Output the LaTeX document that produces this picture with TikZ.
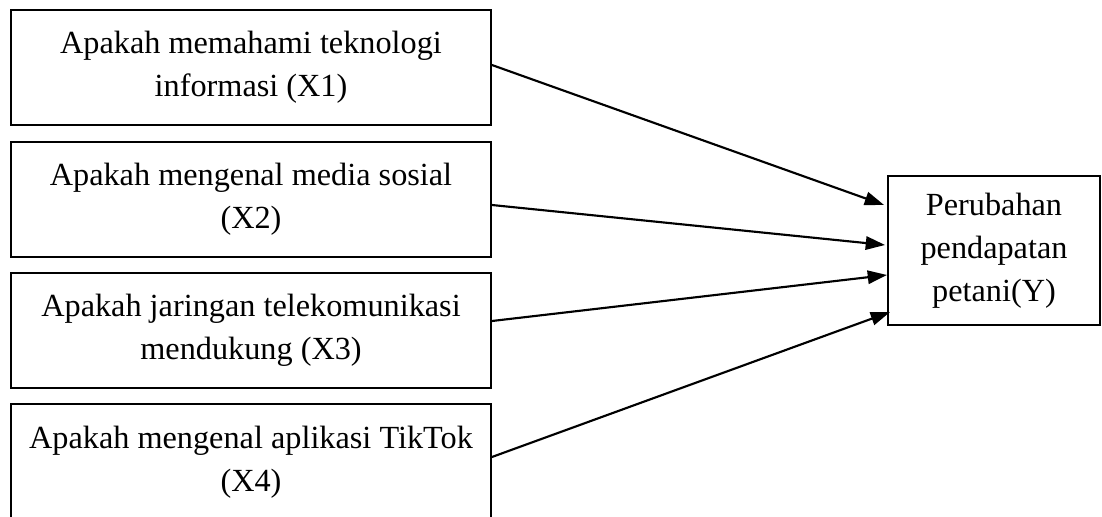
\documentclass[tikz,border=0pt]{standalone}
\usepackage{fontspec}
\setmainfont{Liberation Serif}
\usetikzlibrary{arrows.meta,calc}
\begin{document}
\begin{tikzpicture}[x=0.75pt,y=-0.75pt,
  varbox/.style={draw,line width=1.4pt,rectangle,align=center,inner sep=0pt,
    font=\fontsize{24.2pt}{32.3pt}\selectfont},
  conn/.style={line width=1.6pt,-{Triangle[length=14.5pt,width=10pt]}}]
\useasboundingbox (0,0) rectangle (1102,517);
\node[varbox,minimum width=360pt,minimum height=86.25pt] (x1) at (251,67.5) {Apakah memahami teknologi\\informasi (X1)};
\node[varbox,minimum width=360pt,minimum height=86.25pt] (x2) at (251,199.5) {Apakah mengenal media sosial\\(X2)};
\node[varbox,minimum width=360pt,minimum height=86.25pt] (x3) at (251,330.5) {Apakah jaringan telekomunikasi\\mendukung (X3)};
\node[varbox,minimum width=360pt,minimum height=87pt] (x4) at (251,462) {Apakah mengenal aplikasi TikTok\\(X4)};
\node[varbox,minimum width=159pt,minimum height=111.75pt] (y) at (994,250.5) {Perubahan\\pendapatan\\petani(Y)};
\draw[conn] ($(x1.east)+(0,-2.5)$) -- ($(y.west)+(-3,-45.5)$);
\draw[conn] ($(x2.east)+(0,5.5)$) -- ($(y.west)+(-2,-5.5)$);
\draw[conn] ($(x3.east)+(0,-9.5)$) -- ($(y.west)+(0,24.5)$);
\draw[conn] ($(x4.east)+(0,-5)$) -- ($(y.west)+(3,61.5)$);
\end{tikzpicture}
\end{document}
